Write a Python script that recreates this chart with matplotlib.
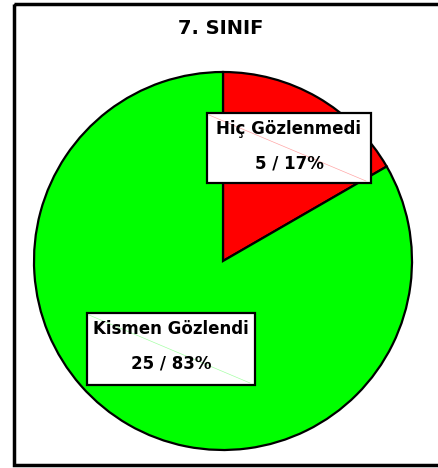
import matplotlib.pyplot as plt
from matplotlib.patches import Rectangle

# data
title = "7. SINIF"
categories = ["Hiç Gözlenmedi", "Kismen Gözlendi"]
counts = [5, 25]
percents = [17, 83]
colors = ["#FF0000", "#00FF00"]

W, H = 439, 468
fig = plt.figure(figsize=(W / 100, H / 100), dpi=100)
ax = fig.add_axes([0, 0, 1, 1])

plt.rcParams['font.family'] = ['DejaVu Sans']

# outer frame
ax.add_patch(Rectangle((14, 4), 450, 461, fill=False, lw=2.5,
                       edgecolor="black", clip_on=False))

# pie (y axis inverted -> counterclock=True draws clockwise on screen)
ax.pie(counts, colors=colors, startangle=-90, counterclock=True,
       center=(223, 261), radius=189, frame=True,
       wedgeprops=dict(edgecolor="black", linewidth=1.6))
ax.set_xlim(0, W)
ax.set_ylim(H, 0)
ax.set_aspect("auto")
ax.axis("off")

ax.text(221, 29, title, ha="center", va="center", fontsize=14,
        fontweight="bold")

# label boxes: (x0, y0, x1, y1)
boxes = [(207, 113, 371, 183), (87, 313, 255, 385)]
for (x0, y0, x1, y1), cat, n, p, c in zip(boxes, categories, counts,
                                           percents, colors):
    ax.add_patch(Rectangle((x0, y0), x1 - x0, y1 - y0, facecolor="white",
                           edgecolor="black", lw=1.6, zorder=3))
    ax.plot([x0 + 2, x1 - 5], [y0 + 2, y1 - 2], color=c, lw=0.5,
            alpha=0.35, zorder=4)
    cx = (x0 + x1) / 2
    ax.text(cx, y0 + 16, cat, ha="center", va="center", fontsize=12,
            fontweight="bold", zorder=5)
    ax.text(cx, y0 + 50, f"{n} / {p}%", ha="center", va="center",
            fontsize=12, fontweight="bold", zorder=5)

fig.savefig("out.png", dpi=100)
